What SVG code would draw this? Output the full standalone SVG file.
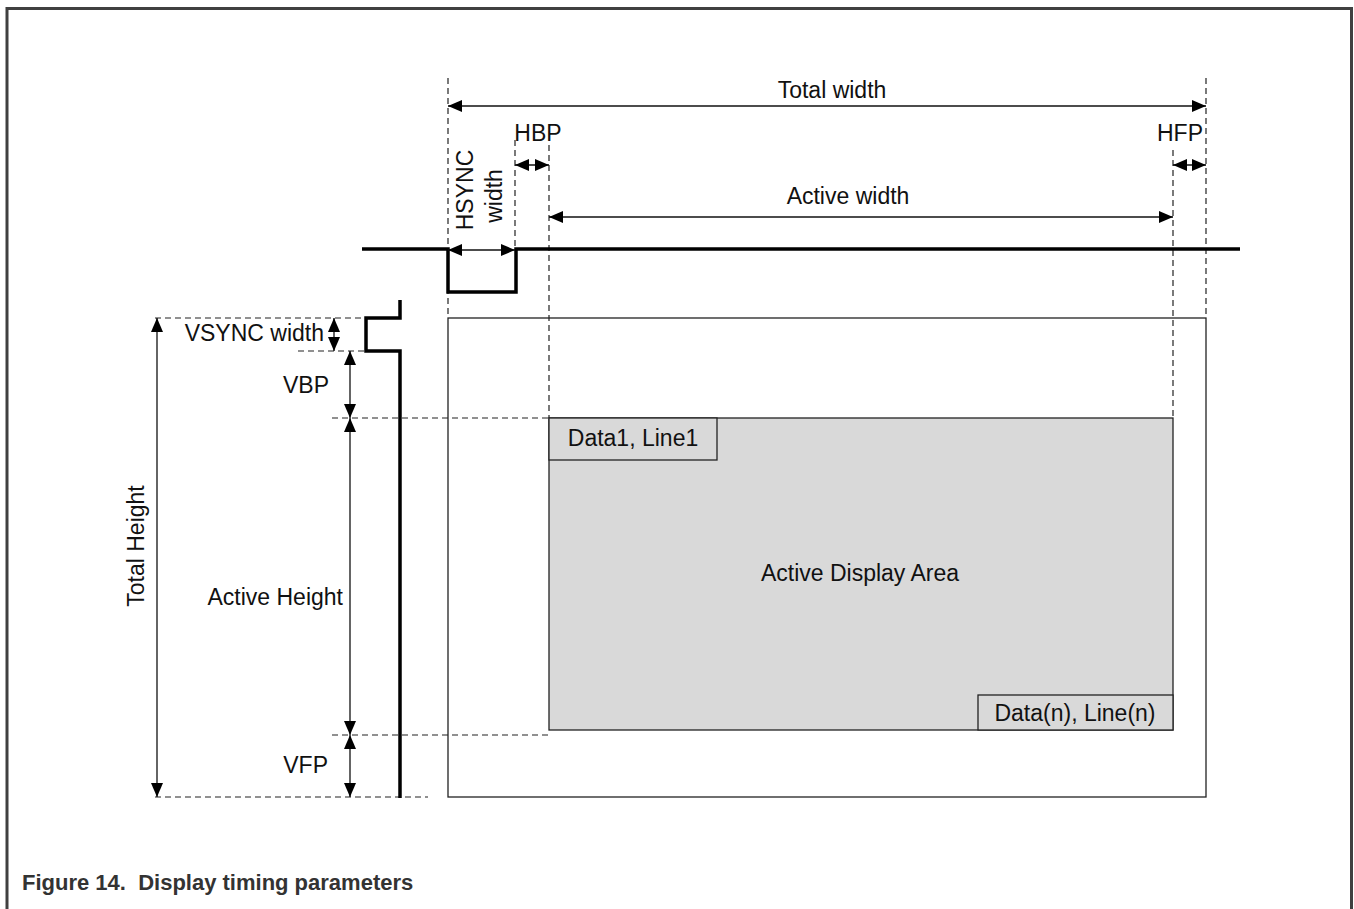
<svg xmlns="http://www.w3.org/2000/svg" width="1354" height="909" viewBox="0 0 1354 909">
<style>
.t{font-family:"Liberation Sans",Arial,sans-serif;font-size:23px;fill:#111}
.dash{stroke:#222;stroke-width:1.2;stroke-dasharray:6,4;fill:none}
.thin{stroke:#222;stroke-width:1.3;fill:none}
.thick{stroke:#000;stroke-width:3.5;fill:none}
.dim{stroke:#111;stroke-width:1.3;fill:none;marker-start:url(#a);marker-end:url(#a)}
</style>
<defs>
<marker id="a" viewBox="0 0 14 12" refX="14" refY="6" markerWidth="14" markerHeight="12" markerUnits="userSpaceOnUse" orient="auto-start-reverse">
<path d="M0,0L14,6L0,12Z" fill="#000"/>
</marker>
</defs>
<rect x="0" y="0" width="1354" height="909" fill="#fff"/>
<path d="M7,909V8.5H1351.5V909" fill="none" stroke="#404040" stroke-width="3"/>

<g id="guides">
<line class="dash" x1="448" y1="78" x2="448" y2="318"/>
<line class="dash" x1="1206" y1="78" x2="1206" y2="318"/>
<line class="dash" x1="515" y1="140" x2="515" y2="250"/>
<line class="dash" x1="549" y1="145" x2="549" y2="418"/>
<line class="dash" x1="1173" y1="150" x2="1173" y2="418"/>
<line class="dash" x1="155" y1="318" x2="366" y2="318"/>
<line class="dash" x1="298" y1="351" x2="366" y2="351"/>
<line class="dash" x1="332" y1="418" x2="549" y2="418"/>
<line class="dash" x1="332" y1="735" x2="552" y2="735"/>
<line class="dash" x1="155" y1="797" x2="428" y2="797"/>
</g>

<g id="frame">
<rect x="448" y="318" width="758" height="479" class="thin"/>
</g>

<g id="active-area">
<rect x="549" y="418" width="624" height="312" fill="#d9d9d9" stroke="#222" stroke-width="1.3"/>
<text class="t" x="860" y="581" text-anchor="middle">Active Display Area</text>
</g>

<g id="data1">
<rect x="549" y="418" width="168" height="42" fill="#d9d9d9" stroke="#222" stroke-width="1.3"/>
<text class="t" x="633" y="446" text-anchor="middle">Data1, Line1</text>
</g>

<g id="datan">
<rect x="978" y="695" width="195" height="35" fill="#d9d9d9" stroke="#222" stroke-width="1.3"/>
<text class="t" x="1075" y="721" text-anchor="middle">Data(n), Line(n)</text>
</g>

<g id="hsync-signal">
<path class="thick" d="M362,249H448V292H516V249H1240"/>
</g>

<g id="vsync-signal">
<path class="thick" d="M400,300V318H366V351H400V798"/>
</g>

<g id="connectors">
<line class="dim" x1="448" y1="106" x2="1206" y2="106"/>
<line class="dim" x1="515" y1="165" x2="549" y2="165"/>
<line class="dim" x1="1173" y1="165" x2="1206" y2="165"/>
<line class="dim" x1="549" y1="217" x2="1173" y2="217"/>
<line class="dim" x1="448" y1="250" x2="515" y2="250"/>
<line class="dim" x1="157" y1="318" x2="157" y2="797"/>
<line class="dim" x1="334" y1="318" x2="334" y2="351"/>
<line class="dim" x1="350" y1="351" x2="350" y2="418"/>
<line class="dim" x1="350" y1="418" x2="350" y2="735"/>
<line class="dim" x1="350" y1="735" x2="350" y2="797"/>
</g>

<g id="labels">
<text class="t" x="832" y="98" text-anchor="middle">Total width</text>
<text class="t" x="538" y="141" text-anchor="middle">HBP</text>
<text class="t" x="1180" y="141" text-anchor="middle">HFP</text>
<text class="t" x="848" y="204" text-anchor="middle">Active width</text>
<text class="t" transform="translate(473,190) rotate(-90)" text-anchor="middle">HSYNC</text>
<text class="t" transform="translate(502,196) rotate(-90)" text-anchor="middle">width</text>
<text class="t" x="324" y="341" text-anchor="end">VSYNC width</text>
<text class="t" x="329" y="393" text-anchor="end">VBP</text>
<text class="t" x="343" y="605" text-anchor="end">Active Height</text>
<text class="t" x="328" y="773" text-anchor="end">VFP</text>
<text class="t" transform="translate(144,546) rotate(-90)" text-anchor="middle">Total Height</text>
</g>

<text x="22" y="890" xml:space="preserve" style="white-space:pre" font-family="Liberation Sans,Arial,sans-serif" font-size="22" font-weight="bold" fill="#333">Figure 14.  Display timing parameters</text>
</svg>
